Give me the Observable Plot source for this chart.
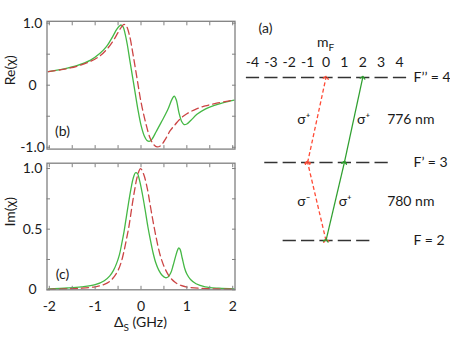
<!DOCTYPE html>
<html><head><meta charset="utf-8">
<script src="https://cdn.jsdelivr.net/npm/d3@7"></script>
<script src="https://cdn.jsdelivr.net/npm/@observablehq/plot@0.6"></script>
<style>
body{margin:0;background:#fff;}
#c{position:relative;width:450px;height:338px;overflow:hidden;}
#c svg{position:absolute;}
</style></head>
<body><div id="c"></div>
<script>
// ---------- data ----------
const xTicks = [-2,-1.5,-1,-0.5,0,0.5,1,1.5,2];
const xTickLabels = [-2,-1,0,1,2];
const reTicks = [-1,-0.5,0,0.5,1];
const reTickLabels = [-1,0,1];
const imTicks = [0,0.25,0.5,0.75,1];
const imTickLabels = [0,0.5,1];

const reRed = [[-2.02,0.22],[-1.7,0.255],[-1.4,0.305],[-1.1,0.385],[-0.9,0.47],[-0.75,0.575],[-0.62,0.70],[-0.5,0.85],[-0.42,0.945],[-0.37,0.98],[-0.32,0.955],[-0.25,0.80],[-0.17,0.48],[-0.08,0.08],[0.0,-0.27],[0.1,-0.6],[0.2,-0.855],[0.28,-0.96],[0.35,-0.995],[0.43,-0.975],[0.54,-0.86],[0.64,-0.73],[0.75,-0.63],[0.85,-0.545],[1.0,-0.46],[1.2,-0.385],[1.4,-0.335],[1.65,-0.29],[1.9,-0.255],[2.03,-0.235]];
const reGreen = [[-2.02,0.22],[-1.7,0.26],[-1.4,0.315],[-1.1,0.405],[-0.9,0.51],[-0.75,0.625],[-0.62,0.78],[-0.53,0.9],[-0.47,0.955],[-0.43,0.97],[-0.39,0.94],[-0.35,0.84],[-0.3,0.66],[-0.25,0.43],[-0.19,0.16],[-0.13,-0.11],[-0.07,-0.38],[0.0,-0.645],[0.07,-0.815],[0.13,-0.89],[0.19,-0.903],[0.24,-0.87],[0.33,-0.75],[0.44,-0.6],[0.58,-0.4],[0.68,-0.22],[0.725,-0.175],[0.77,-0.24],[0.83,-0.45],[0.89,-0.59],[0.94,-0.635],[1.0,-0.625],[1.09,-0.565],[1.22,-0.47],[1.4,-0.385],[1.6,-0.325],[1.8,-0.28],[2.03,-0.24]];
const imRed = [[-2.02,0.004],[-1.6,0.008],[-1.3,0.013],[-1.0,0.025],[-0.8,0.045],[-0.68,0.07],[-0.58,0.11],[-0.5,0.16],[-0.43,0.23],[-0.37,0.32],[-0.31,0.43],[-0.26,0.53],[-0.2,0.68],[-0.14,0.82],[-0.08,0.935],[-0.01,1.0],[0.06,0.95],[0.14,0.83],[0.2,0.7],[0.26,0.57],[0.31,0.47],[0.37,0.36],[0.43,0.27],[0.5,0.195],[0.57,0.14],[0.65,0.095],[0.75,0.06],[0.87,0.036],[1.05,0.02],[1.4,0.01],[2.03,0.004]];
const imGreen = [[-2.02,0.008],[-1.6,0.015],[-1.3,0.024],[-1.0,0.042],[-0.8,0.075],[-0.68,0.115],[-0.6,0.16],[-0.53,0.22],[-0.47,0.29],[-0.42,0.38],[-0.37,0.48],[-0.32,0.6],[-0.27,0.72],[-0.22,0.83],[-0.17,0.92],[-0.12,0.965],[-0.08,0.96],[-0.03,0.9],[0.03,0.79],[0.09,0.66],[0.15,0.52],[0.2,0.42],[0.26,0.31],[0.32,0.225],[0.39,0.16],[0.46,0.12],[0.53,0.1],[0.59,0.105],[0.65,0.14],[0.7,0.2],[0.75,0.27],[0.8,0.33],[0.825,0.345],[0.85,0.335],[0.9,0.26],[0.95,0.18],[1.0,0.13],[1.08,0.085],[1.2,0.05],[1.4,0.025],[1.7,0.013],[2.03,0.007]];

// level diagram
const levelNames = ["F = 2", "F\u2019 = 3", "F\u2019\u2019 = 4"];
const levelF = [2, 3, 4];
const mFLabels = [-4,-3,-2,-1,0,1,2,3,4];
const wavelengths = ["780 nm", "776 nm"];
const transitions = [
  {m1: 0, l1: 0, m2: -1, l2: 1, beam: "red", label: "\u03c3\u207b"},
  {m1: -1, l1: 1, m2: 0, l2: 2, beam: "red", label: "\u03c3\u207a"},
  {m1: 0, l1: 0, m2: 1, l2: 1, beam: "green", label: "\u03c3\u207a"},
  {m1: 1, l1: 1, m2: 2, l2: 2, beam: "green", label: "\u03c3\u207a"}
];

// ---------- styles ----------
const FONT = "Lato, 'Open Sans', 'DejaVu Sans', sans-serif";
const ink = "#1a1a1a";
const gray = "#808080";
const cGreen = "#45b845";
const cRed = "#cc4545";
const aRed = "#ff4a35";
const aGreen = "#2f9f2f";
const root = document.getElementById("c");

function frameTicks(xt, yt, len) {
  const o = {stroke: gray, strokeWidth: 1, fill: "none", label: null, tickSize: len};
  return [
    Plot.axisX(xt, {...o, anchor: "bottom", dy: -len}),
    Plot.axisX(xt, {...o, anchor: "top", dy: len}),
    Plot.axisY(yt, {...o, anchor: "left", dx: len}),
    Plot.axisY(yt, {...o, anchor: "right", dx: -len})
  ];
}
const fmtY = d => d === 0 ? "0" : d.toFixed(1);
const style = {fontFamily: FONT, fontSize: "14px", background: "transparent", overflow: "visible", color: ink};

// ---------- panel (b) ----------
const pb = Plot.plot({
  width: 240, height: 160,
  marginLeft: 46.5, marginRight: 5.5, marginTop: 20.8, marginBottom: 11.4,
  style,
  x: {domain: [-2.05, 2.05], label: null},
  y: {domain: [-1.03, 1.03], label: null},
  marks: [
    Plot.line(reGreen, {x: d => d[0], y: d => d[1], stroke: cGreen, strokeWidth: 1.3, curve: "catmull-rom"}),
    Plot.line(reRed, {x: d => d[0], y: d => d[1], stroke: cRed, strokeWidth: 1.3, strokeDasharray: "7,4", curve: "catmull-rom"}),
    ...frameTicks(xTicks, reTicks, 3.5),
    Plot.axisY(reTickLabels, {anchor: "left", tickSize: 0, tickPadding: 14.5, textAnchor: "middle", tickFormat: fmtY, fontSize: 14, fill: ink, label: null}),
    Plot.frame({stroke: gray, strokeWidth: 1.3}),
    Plot.text(["Re(\u03c7)"], {frameAnchor: "left", dx: -36.5, rotate: -90, fontSize: 14, fill: ink}),
    Plot.text(["(b)"], {frameAnchor: "bottom-left", dx: 15.5, dy: -13, fontSize: 14, fill: ink, textAnchor: "middle"})
  ]
});
pb.style.left = "0px"; pb.style.top = "0px";
root.appendChild(pb);

// ---------- panel (c) ----------
const pc = Plot.plot({
  width: 240, height: 188,
  marginLeft: 46.5, marginRight: 5.5, marginTop: 12.7, marginBottom: 48.7,
  style,
  x: {domain: [-2.05, 2.05], label: null},
  y: {domain: [0, 1.044], label: null},
  marks: [
    Plot.line(imGreen, {x: d => d[0], y: d => d[1], stroke: cGreen, strokeWidth: 1.3, curve: "catmull-rom"}),
    Plot.line(imRed, {x: d => d[0], y: d => d[1], stroke: cRed, strokeWidth: 1.3, strokeDasharray: "7,4", curve: "catmull-rom"}),
    ...frameTicks(xTicks, imTicks, 3.5),
    Plot.axisY(imTickLabels, {anchor: "left", tickSize: 0, tickPadding: 14.5, textAnchor: "middle", tickFormat: fmtY, fontSize: 14, fill: ink, label: null}),
    Plot.axisX(xTickLabels, {anchor: "bottom", tickSize: 0, tickPadding: 11, tickFormat: d => String(d), fontSize: 14, fill: ink, label: null}),
    Plot.frame({stroke: gray, strokeWidth: 1.3}),
    Plot.text(["Im(\u03c7)"], {frameAnchor: "left", dx: -36.5, rotate: -90, fontSize: 14, fill: ink}),
    Plot.text(["(c)"], {frameAnchor: "bottom-left", dx: 15.5, dy: -10.5, fontSize: 14, fill: ink, textAnchor: "middle"})
  ]
});
pc.style.left = "0px"; pc.style.top = "150px";
root.appendChild(pc);
{
  const t = d3.select(pc).append("text")
    .attr("x", pc.scale("x").apply(0)).attr("y", 177)
    .attr("text-anchor", "middle").attr("font-size", 14).attr("fill", ink);
  t.append("tspan").text("\u0394");
  t.append("tspan").attr("font-size", 10).attr("dy", 3.5).text("S");
  t.append("tspan").attr("dy", -3.5).text(" (GHz)");
}

// ---------- level diagram (a) ----------
const sublevels = levelF.flatMap((F, i) => d3.range(-F, F + 1).map(m => ({m, level: i})));
const redT = transitions.filter(d => d.beam === "red");
const greenT = transitions.filter(d => d.beam === "green");
const mid = (a, b) => (a + b) / 2;

const pa = Plot.plot({
  width: 210, height: 338,
  margin: 0,
  style,
  x: {type: "linear", domain: [-4, 4], range: [12, 159], axis: null},
  y: {type: "linear", domain: [0, 1, 2], range: [240, 162, 77], axis: null},
  marks: [
    Plot.link(sublevels, {x1: d => d.m - 0.36, x2: d => d.m + 0.36, y1: "level", y2: "level", stroke: "#333", strokeWidth: 1.5}),
    Plot.link(redT, {x1: "m1", y1: "l1", x2: "m2", y2: "l2", stroke: aRed, strokeWidth: 1.3, strokeDasharray: "4,2.5", markerStart: "arrow", markerEnd: "arrow"}),
    Plot.link(greenT, {x1: "m1", y1: "l1", x2: "m2", y2: "l2", stroke: aGreen, strokeWidth: 1.2, markerStart: "arrow", markerEnd: "arrow"}),
    Plot.text(redT, {x: d => mid(d.m1, d.m2), y: d => mid(d.l1, d.l2), text: "label", dx: -13, fontSize: 14, fill: ink}),
    Plot.text(greenT, {x: d => mid(d.m1, d.m2), y: d => mid(d.l1, d.l2), text: "label", dx: 10, fontSize: 14, fill: ink}),
    Plot.text(mFLabels, {x: d => d, y: () => 2, dy: -15, text: d => String(d), fontSize: 14, fill: ink}),
    Plot.text(levelNames, {x: () => 4, y: (d, i) => i, dx: 14, text: d => d, textAnchor: "start", fontSize: 14, fill: ink}),
    Plot.text(wavelengths, {x: () => 3, y: (d, i) => i + 0.5, dx: 6, text: d => d, textAnchor: "start", fontSize: 14, fill: ink}),
    Plot.text(["(a)"], {frameAnchor: "top-left", dx: 25, dy: 23, textAnchor: "middle", fontSize: 14, fill: ink})
  ]
});
pa.style.left = "240px"; pa.style.top = "0px";
root.appendChild(pa);
{
  const t = d3.select(pa).append("text")
    .attr("x", pa.scale("x").apply(0)).attr("y", pa.scale("y").apply(2) - 30)
    .attr("text-anchor", "middle").attr("font-size", 14).attr("fill", ink);
  t.append("tspan").text("m");
  t.append("tspan").attr("font-size", 10).attr("dy", 3.5).text("F");
}
</script>
</body></html>
